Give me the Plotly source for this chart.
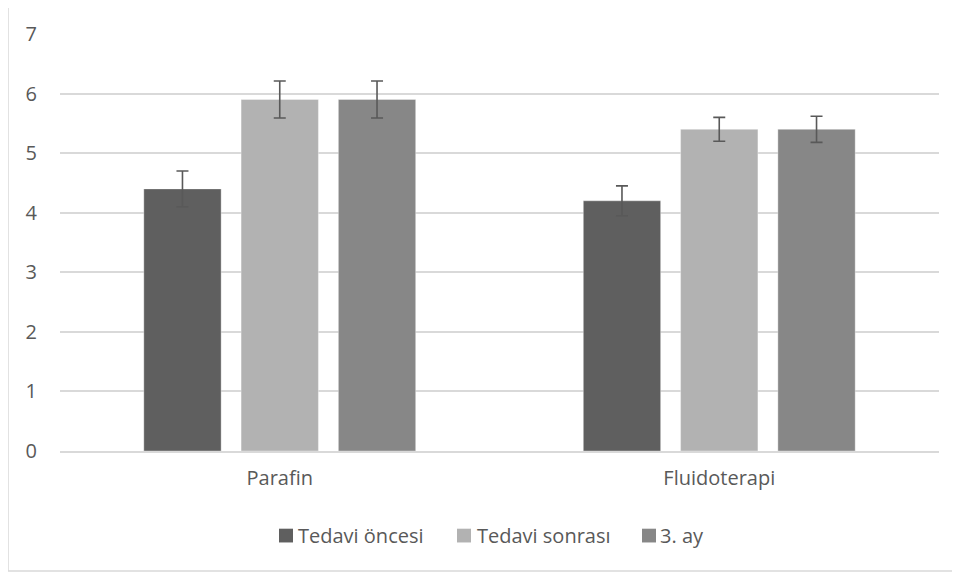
import plotly.graph_objects as go

categories = ["Parafin", "Fluidoterapi"]
series_names = ["Tedavi öncesi", "Tedavi sonrası", "3. ay"]
tedavi_oncesi = [4.4, 4.2]
tedavi_sonrasi = [5.9, 5.4]
uc_ay = [5.9, 5.4]
err_oncesi = [0.3, 0.25]
err_sonrasi = [0.31, 0.2]
err_uc_ay = [0.31, 0.22]
y_ticks = [0, 1, 2, 3, 4, 5, 6, 7]

colors = ["#5f5f5f", "#b2b2b2", "#878787"]
values = [tedavi_oncesi, tedavi_sonrasi, uc_ay]
errors = [err_oncesi, err_sonrasi, err_uc_ay]

FONT = "Open Sans, Segoe UI, sans-serif"
TXT = "#595959"
FS = 20

fig = go.Figure()
for name, vals, errs, col in zip(series_names, values, errors, colors):
    fig.add_trace(go.Bar(
        x=categories, y=vals, name=name,
        marker=dict(color=col, line=dict(color="rgba(255,255,255,0.35)", width=1)),
        error_y=dict(type="data", array=errs, visible=True,
                     color="#595959", thickness=1.6, width=6),
        showlegend=False,
    ))

W, H = 960, 576
OFF = 8  # page body offset
L, R, T, B = 52, 29, 19, 133
pw, ph = W - L - R, H - T - B

def px_x(s):
    return (s - OFF - L) / pw

def px_y(s):
    return (H - B - (s - OFF)) / ph

# chart-area border (left and bottom edges visible)
fig.add_shape(type="line", xref="paper", yref="paper",
              x0=px_x(8), x1=px_x(8), y0=px_y(573), y1=px_y(-20),
              line=dict(color="#d9d9d9", width=1.5), layer="below")
fig.add_shape(type="line", xref="paper", yref="paper",
              x0=px_x(8), x1=px_x(990), y0=px_y(573), y1=px_y(573),
              line=dict(color="#d9d9d9", width=1.5), layer="below")

# legend (manual, to match spacing)
legend_sq_left = [279, 457, 642]
legend_text_left = [298, 477, 660]
ly = 537
for name, col, sx, tx in zip(series_names, colors, legend_sq_left, legend_text_left):
    fig.add_shape(type="rect", xref="paper", yref="paper",
                  x0=px_x(sx), x1=px_x(sx + 14), y0=px_y(ly + 7), y1=px_y(ly - 7),
                  line=dict(width=0), fillcolor=col)
    fig.add_annotation(xref="paper", yref="paper", x=px_x(tx), y=px_y(ly),
                       xanchor="left", yanchor="middle", text=name, showarrow=False,
                       font=dict(family=FONT, size=FS, color=TXT), xshift=-2)

fig.update_layout(
    width=W, height=H,
    margin=dict(l=L, r=R, t=T, b=B),
    paper_bgcolor="white", plot_bgcolor="white",
    barmode="group", bargap=0.336, bargroupgap=0.205,
    font=dict(family=FONT, size=FS, color=TXT),
    showlegend=False,
    xaxis=dict(showgrid=False, showline=True, linecolor="#d9d9d9", linewidth=1.5,
               ticks="", tickfont=dict(size=FS, color=TXT), ticklabelstandoff=8),
    yaxis=dict(range=[0, 7], tickvals=y_ticks, showgrid=True, gridcolor="#d9d9d9",
               gridwidth=1.5, zeroline=False, showline=False, ticks="",
               tickfont=dict(size=FS, color=TXT), ticklabelstandoff=22),
)

fig.write_html("out.html")
